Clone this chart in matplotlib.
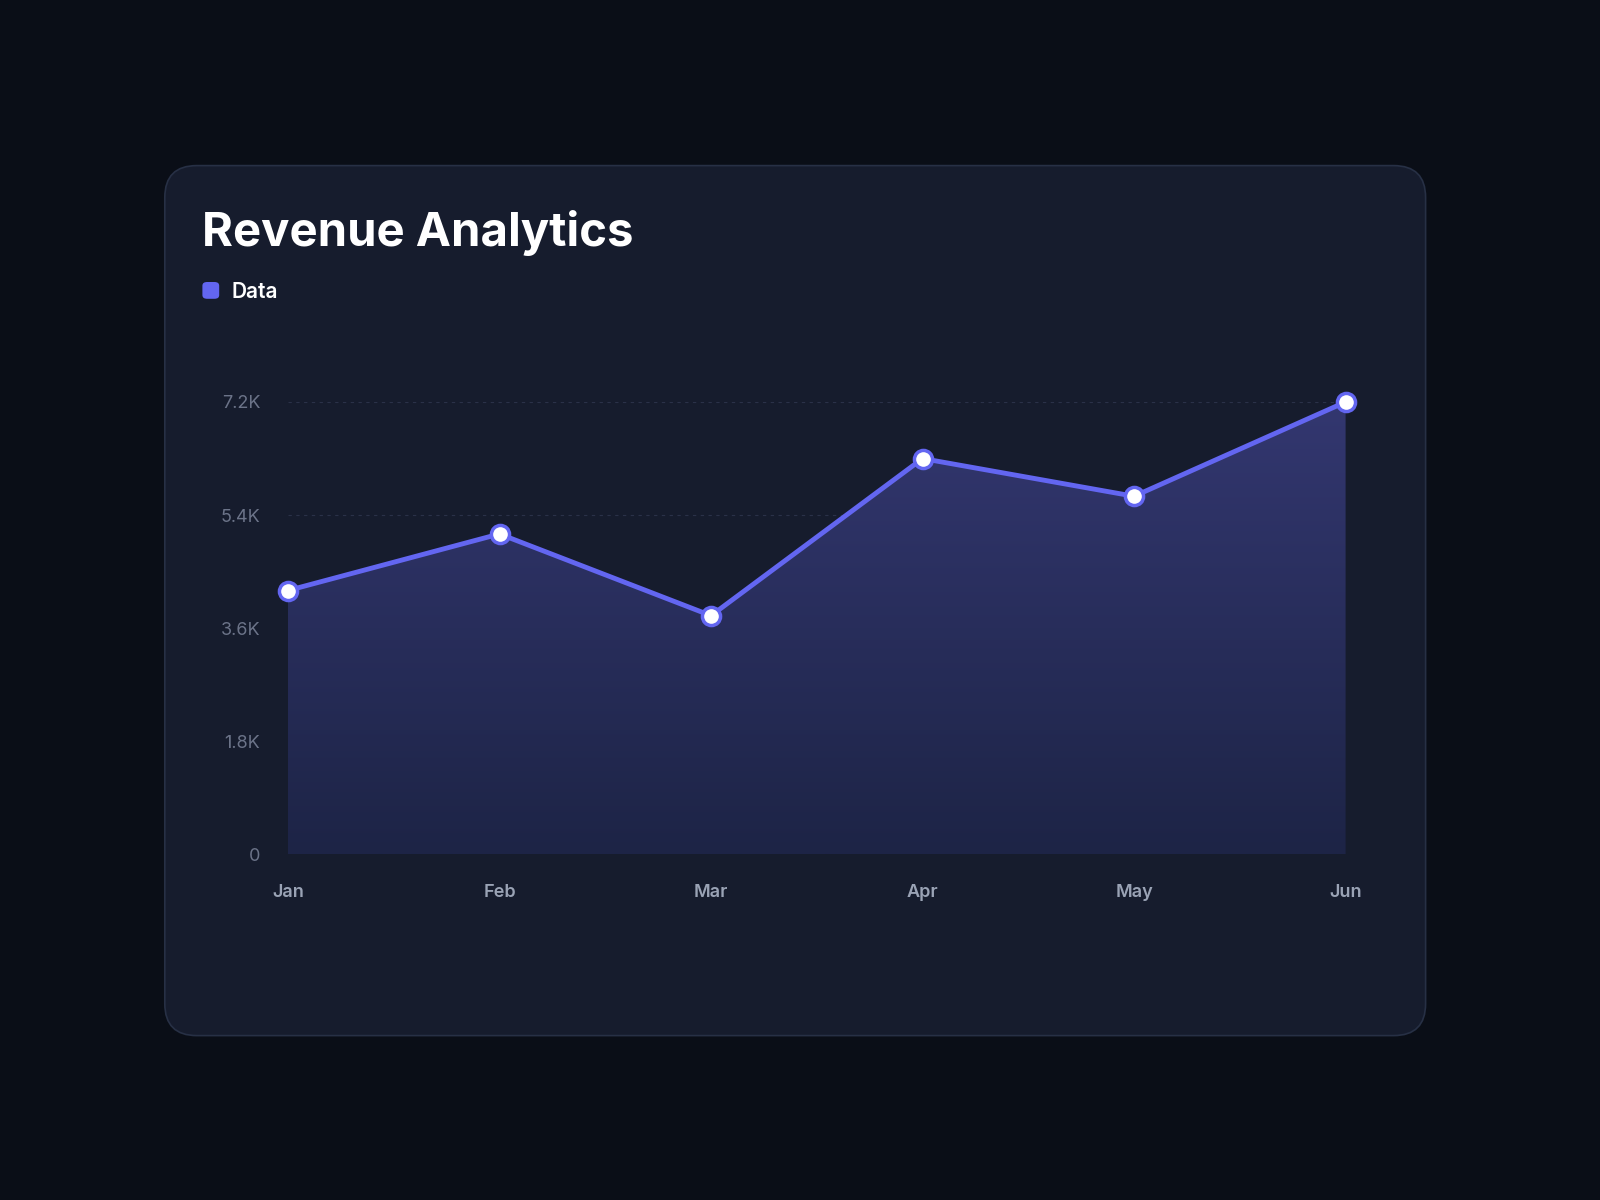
import numpy as np
import matplotlib.pyplot as plt
from matplotlib.patches import FancyBboxPatch, Polygon

months = ['Jan', 'Feb', 'Mar', 'Apr', 'May', 'Jun']
revenue = [4200, 5100, 3800, 6300, 5700, 7200]
yticks = [0, 1800, 3600, 5400, 7200]
ylabels = ['0', '1.8K', '3.6K', '5.4K', '7.2K']

plt.rcParams['font.family'] = ['Inter', 'DejaVu Sans']
fig = plt.figure(figsize=(16, 12), dpi=100)
fig.patch.set_facecolor('#0a0e17')

# card
bg = fig.add_axes([0, 0, 1, 1], zorder=0)
bg.set_xlim(0, 1); bg.set_ylim(0, 1); bg.axis('off')
card = FancyBboxPatch((0.103, 0.137), 0.788, 0.725,
                      boxstyle='round,pad=0,rounding_size=0.02',
                      transform=bg.transAxes, facecolor='#161c2d',
                      edgecolor='#273045', linewidth=1.2, mutation_aspect=1.33)
bg.add_patch(card)
fig.text(0.126, 0.806, 'Revenue Analytics', color='white', fontsize=34,
         fontweight='bold', va='center')
bg.add_patch(FancyBboxPatch((0.1265, 0.751), 0.0105, 0.014,
                            boxstyle='round,pad=0,rounding_size=0.003',
                            transform=bg.transAxes, facecolor='#6366f1',
                            edgecolor='none'))
fig.text(0.145, 0.757, 'Data', color='white', fontsize=15,
         fontweight='semibold', va='center')

ax = fig.add_axes([0.180, 0.288, 0.661, 0.377], zorder=1)
ax.patch.set_alpha(0)
x = np.arange(len(months))
ax.set_xlim(0, 5)
ax.set_ylim(0, 7200)
for s in ax.spines.values():
    s.set_visible(False)

# gradient fill under line
grad = np.linspace(0.2, 0.45, 256).reshape(-1, 1)
cmap = plt.matplotlib.colors.LinearSegmentedColormap.from_list(
    'g', ['#1d2446', '#333770'])
im = ax.imshow(grad, extent=[0, 5, 0, 7200], origin='lower', aspect='auto',
               cmap=cmap, vmin=0.2, vmax=0.45, zorder=1)
poly = Polygon(list(zip(x, revenue)) + [(5, 0), (0, 0)], closed=True,
               transform=ax.transData, facecolor='none', edgecolor='none')
ax.add_patch(poly)
im.set_clip_path(poly)

for t in yticks:
    ax.axhline(t, color='#2a3148', linestyle=(0, (3, 4)), linewidth=0.8, zorder=0.5)

ax.plot(x, revenue, color='#6366f1', linewidth=3.5, zorder=3, clip_on=False)
ax.scatter(x, revenue, s=170, facecolor='white', edgecolor='#6366f1',
           linewidth=2.5, zorder=4, clip_on=False)

ax.set_xticks(x, months)
ax.set_yticks(yticks, ylabels)
ax.tick_params(length=0, labelsize=13)
ax.tick_params(axis='x', colors='#9aa3b5', pad=21)
ax.tick_params(axis='y', colors='#6b7388', pad=20)
for lb in ax.get_xticklabels():
    lb.set_fontweight('semibold')

fig.savefig('out.png', dpi=100, facecolor=fig.get_facecolor())
